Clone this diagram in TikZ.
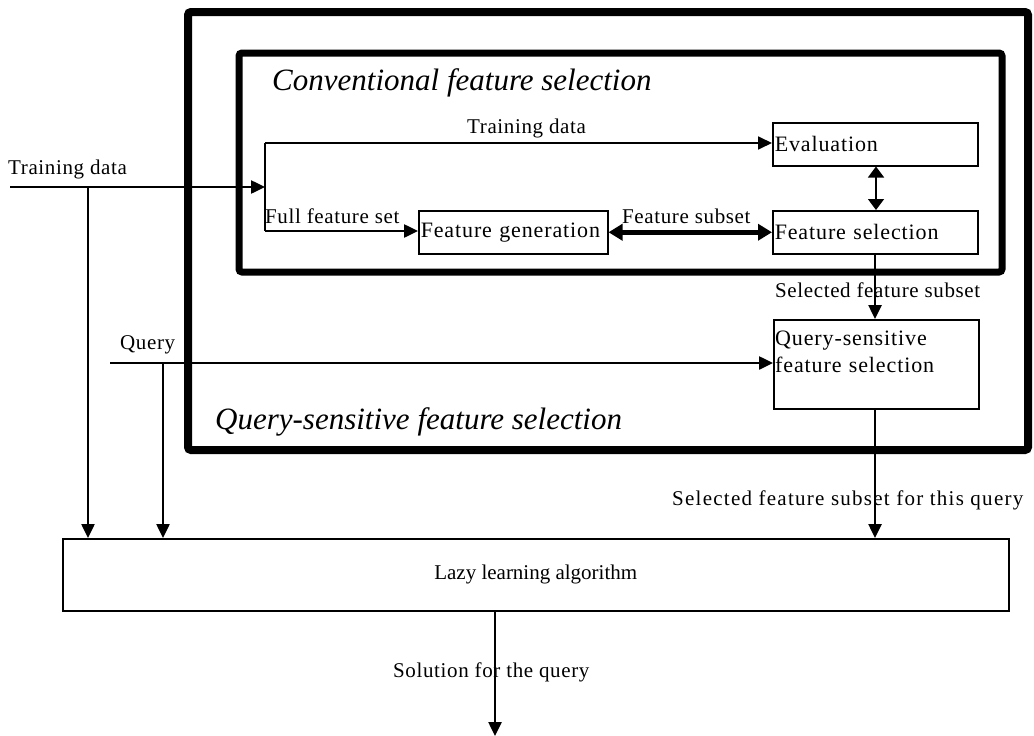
\documentclass[tikz,border=0pt]{standalone}
\usepackage{fontspec}
\setmainfont{Liberation Serif}
\newfontfamily\spaced[LetterSpace=3]{Liberation Serif}
\newfontfamily\wide[LetterSpace=6]{Liberation Serif}
\newfontfamily\boxf[LetterSpace=4]{Liberation Serif}
\usetikzlibrary{arrows.meta}
\begin{document}
\begin{tikzpicture}[x=1pt,y=-1pt,
  lbl/.style={font=\spaced\fontsize{21}{24}\selectfont, inner sep=0pt, anchor=west},
  ital/.style={font=\fontsize{31}{34}\selectfont\itshape, inner sep=0pt, anchor=west},
  box/.style={draw, line width=1.5pt, inner sep=2pt, font=\boxf\fontsize{22}{27}\selectfont, align=left, text width=#1},
  arr/.style={line width=2.5pt, -{Triangle[length=14pt,width=13pt]}},
  thinarr/.style={line width=1.8pt, -{Triangle[length=14pt,width=13pt]}},
  frame/.style={line width=8pt, rounded corners=3pt}
]
\useasboundingbox (0,0) rectangle (1034,736);
% frames
\draw[frame] (188,12) rectangle (1028,450);
\draw[frame, line width=7pt] (239,53) rectangle (1002,272);
\node[ital] (conv) at (272,83) {Conventional feature selection};
\node[ital] (qsfs) at (215,422) {Query-sensitive feature selection};
% boxes
\node[box=201pt, minimum height=43pt, anchor=north west] (eval) at (772,122) {Evaluation};
\node[box=201pt, minimum height=43pt, anchor=north west] (fsel) at (772,210) {Feature selection};
\node[box=185pt, minimum height=43pt, anchor=north west] (fgen) at (418,210) {Feature generation};
\node[draw, line width=1.5pt, minimum width=205pt, minimum height=89pt, anchor=north west] (qs) at (773,319) {};
\node[inner sep=2pt, font=\boxf\fontsize{22}{27}\selectfont, align=left, text width=200pt, anchor=north west] (qstext) at (773,329) {Query-sensitive\\feature selection};
\node[draw, line width=1.5pt, minimum width=946pt, minimum height=72pt, anchor=north west, font=\fontsize{21}{24}\selectfont] (lazy) at (62,538) {Lazy learning algorithm};
% coordinates
\coordinate (tdin) at (10,187);
\coordinate (split) at (265,187);
\coordinate (splitT) at (265,143);
\coordinate (splitB) at (265,231);
\coordinate (tdv) at (88,187);
\coordinate (qin) at (110,363);
\coordinate (qv) at (163,363);
\coordinate (out) at (495,736);
% connectors
\draw[arr] (tdin) -- (split);
\draw[line width=2pt] (splitT) -- (splitB);
\draw[thinarr] (splitT) -- (eval.west |- splitT);
\draw[arr] (splitB) -- (fgen.west |- splitB);
\draw[line width=5pt, {Triangle[length=14pt,width=16pt]}-{Triangle[length=14pt,width=16pt]}] (fgen.east) -- (fsel.west);
\draw[line width=1.5pt, {Triangle[length=11pt,width=16pt]}-{Triangle[length=11pt,width=16pt]}] (eval.south -| 876,0) -- (fsel.north -| 876,0);
\draw[arr] (fsel.south -| 875,0) -- (qs.north -| 875,0);
\draw[arr] (tdv) -- (tdv |- lazy.north);
\draw[arr] (qin) -- (qs.west |- qin);
\draw[arr] (qv) -- (qv |- lazy.north);
\draw[arr] (qs.south -| 875,0) -- (lazy.north -| 875,0);
\draw[arr] (lazy.south -| out) -- (out);
% labels
\node[lbl] (ltd) at (8,169) {Training data};
\node[lbl] (ltd2) at (467,128) {Training data};
\node[lbl] (lffs) at (265,216) {Full feature set};
\node[lbl] (lfs) at (622,216) {Feature subset};
\node[lbl] (lsfs) at (775,290) {Selected feature subset};
\node[lbl] (lq) at (120,345) {Query};
\node[lbl, font=\wide\fontsize{21}{24}\selectfont] (lsfq) at (672,500) {Selected feature subset for this query};
\node[lbl] (lsol) at (393,672) {Solution for the query};
\end{tikzpicture}
\end{document}
